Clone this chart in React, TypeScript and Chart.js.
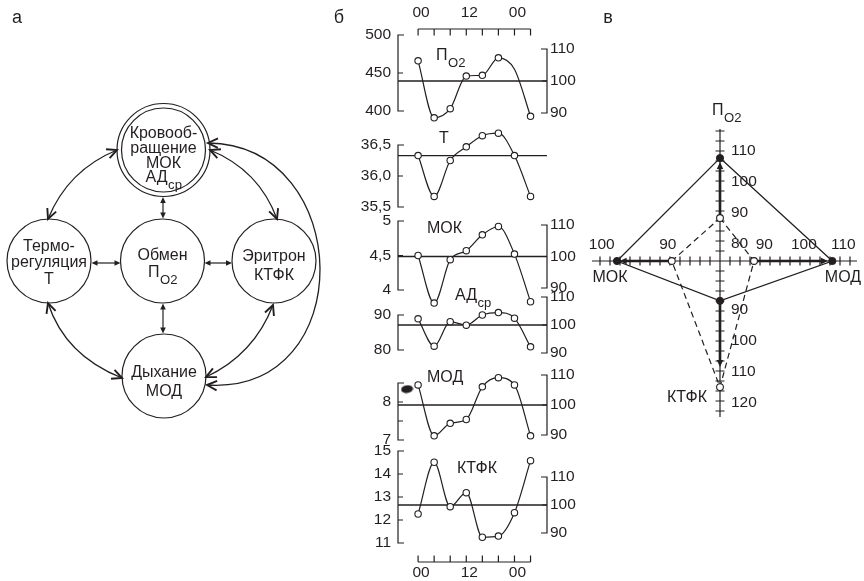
import React, { useEffect, useRef } from 'react';
import { Chart, registerables } from 'chart.js';

Chart.register(...registerables);

const INK = '#231f20';
const FONT = '"Liberation Sans", Arial, Helvetica, sans-serif';

/* ================= DATA ================= */

/* panel б: 24-hour rhythms, points every 4 h */
const HOURS = [0, 4, 8, 12, 16, 20, 24, 28];
const PO2_VALUES = [466, 391, 403, 446, 447, 470, 455, 393];
const PO2_MARKED = [true, true, true, true, true, true, false, true];
const T_VALUES = [36.33, 35.67, 36.25, 36.47, 36.65, 36.69, 36.33, 35.67];
const MOK_VALUES = [4.5, 3.81, 4.44, 4.57, 4.8, 4.92, 4.52, 3.83];
const AD_VALUES = [88.9, 81.1, 88.1, 87.1, 90.0, 90.7, 89.1, 80.9];
const MOD_VALUES = [8.45, 7.11, 7.44, 7.54, 8.4, 8.64, 8.45, 7.11];
const KTFK_VALUES = [12.26, 14.51, 12.58, 13.19, 11.25, 11.3, 12.32, 14.58];
const ALL_MARKED = [true, true, true, true, true, true, true, true];
const MOD_BLOT_X = [-2.75];
const MOD_BLOT_Y = [8.34];

const TIME_TICKS = [0, 4, 8, 12, 16, 20, 24, 28];
const TIME_LABELS = ['00', '', '', '12', '', '', '00', ''];
const PCT_TICKS = [90, 100, 110];
const PCT_LABELS = ['90', '100', '110'];
const PO2_TICKS = [400, 450, 500];
const PO2_TICK_LABELS = ['400', '450', '500'];
const T_TICKS = [35.5, 36.0, 36.5];
const T_TICK_LABELS = ['35,5', '36,0', '36,5'];
const MOK_TICKS = [4, 4.5, 5];
const MOK_TICK_LABELS = ['4', '4,5', '5'];
const AD_TICKS = [80, 90];
const AD_TICK_LABELS = ['80', '90'];
const MOD_TICKS = [7, 7.5, 8, 8.5];
const MOD_TICK_LABELS = ['7', '', '8', ''];
const KTFK_TICKS = [11, 12, 13, 14, 15];
const KTFK_TICK_LABELS = ['11', '12', '13', '14', '15'];

/* panel в: two states on four axes (top, right, bottom, left) */
const RADAR_AXES = ['ПO2', 'МОД', 'КТФК', 'МОК'];
const STATE_SOLID = [107.6, 107.2, 87.2, 97.7];
const STATE_DASHED = [88.2, 87.4, 115.1, 89.4];
const SHIFT_FROM = [88.2, 87.4, 87.2, 89.4];
const SHIFT_TO = [106.3, 106.1, 108.6, 97.3];
const PO2_AXIS_TICKS = [80, 90, 100, 110];
const MOD_AXIS_TICKS = [90, 100, 110];
const KTFK_AXIS_TICKS = [90, 100, 110, 120];
const MOK_AXIS_TICKS = [90, 100];

/* panel а: scheme */
const NODE_LINES: string[][] = [
  ['Кровооб-', 'ращение', 'МОК', 'АД_ср'],
  ['Термо-', 'регуляция', 'Т'],
  ['Обмен', 'П_O2'],
  ['Эритрон', 'КТФК'],
  ['Дыхание', 'МОД'],
];

/* ================= LAYOUT ================= */

const NODE_X = [163.5, 49, 162.5, 274, 164];
const NODE_Y = [150, 261, 261, 261, 376];
const NODE_R = 42;
const OUTER_R = 46.5;
const NODE_GAP = [14.7, 16.7, 17.5, 19, 19];
const NODE_TEXT_DY = [6, 2, 3, 5, 6];
const STRAIGHT_LINKS = [
  [163, 197, 163, 218.5],
  [91.5, 263, 120.5, 263],
  [204.5, 263, 232, 263],
  [163, 303.5, 163, 333.5],
];
const QUAD_LINKS = [
  [117, 150, 68, 170, 48, 219],
  [210, 150, 259, 170, 277, 219],
  [48, 303, 65, 355.5, 122, 378],
  [273, 305, 254, 354.5, 206, 377],
];
const BIG_ARC = [208, 143, 355, 145, 360, 395, 207, 385];

const SUB_LEFT = 330;
const SUB_WIDTH = 270;
const SUB_PAD_L = 68;
const SUB_PAD_R = 53;
const X_MIN = -5;
const X_MAX = 32.1;

const AXIS_MIN = [74.3, 78.8, 74.3, 82.1];
const AXIS_MAX = [119.6, 114.2, 119.6, 103.3];
const R_MAX = 14;
const AXIS_EXT = [13.2, 13.7, 15.6, 12.8];
const AXIS_TICK_N = [13, 13, 15, 12];

/* ================= HELPERS ================= */

function drawRich(ctx: CanvasRenderingContext2D, x: number, y: number, text: string, size: number, align: 'center' | 'left') {
  const [main, sub] = text.split('_');
  ctx.font = `${size}px ${FONT}`;
  const w1 = ctx.measureText(main).width;
  const subSize = size * 0.82;
  ctx.font = `${subSize}px ${FONT}`;
  const w2 = sub ? ctx.measureText(sub).width : 0;
  const x0 = align === 'center' ? x - (w1 + w2) / 2 : x;
  ctx.textAlign = 'left';
  ctx.textBaseline = 'middle';
  ctx.font = `${size}px ${FONT}`;
  ctx.fillText(main, x0, y);
  if (sub) {
    ctx.font = `${subSize}px ${FONT}`;
    ctx.fillText(sub, x0 + w1 + 0.5, y + size * 0.45);
  }
}

function filledHead(ctx: CanvasRenderingContext2D, tx: number, ty: number, dx: number, dy: number, len: number, hw: number) {
  const l = Math.hypot(dx, dy) || 1;
  const ux = dx / l, uy = dy / l;
  const bx = tx - ux * len, by = ty - uy * len;
  ctx.beginPath();
  ctx.moveTo(tx, ty);
  ctx.lineTo(bx - uy * hw, by + ux * hw);
  ctx.lineTo(bx + uy * hw, by - ux * hw);
  ctx.closePath();
  ctx.fill();
}

function vHead(ctx: CanvasRenderingContext2D, tx: number, ty: number, dx: number, dy: number, len = 11, spread = 0.45) {
  const a = Math.atan2(dy, dx);
  ctx.beginPath();
  ctx.moveTo(tx - len * Math.cos(a - spread), ty - len * Math.sin(a - spread));
  ctx.lineTo(tx, ty);
  ctx.lineTo(tx - len * Math.cos(a + spread), ty - len * Math.sin(a + spread));
  ctx.stroke();
}

function calRange(cal: number[], top: number, bottom: number) {
  const [v1, p1, v2, p2] = cal;
  const upp = (v1 - v2) / (p2 - p1);
  return { min: v1 - (bottom - p1) * upp, max: v1 + (p1 - top) * upp };
}

/* ================= PANEL б ================= */

type SubCfg = {
  key: string;
  values: number[];
  marked: boolean[];
  top: number;
  height: number;
  leftCal: number[];
  pctCal: number[];
  leftTicks: number[];
  leftLabels: string[];
  rightTicks: number[];
  rightLabels: string[];
  title: string;
  titleX: number;
  titleY: number;
  timeAxis?: { y: number; dir: number; labelY: number };
  letter?: boolean;
  blot?: boolean;
};

const SUBPLOTS: SubCfg[] = [
  {
    key: 'po2', values: PO2_VALUES, marked: PO2_MARKED, top: 0, height: 130,
    leftCal: [500, 35, 400, 111], pctCal: [110, 49, 90, 113],
    leftTicks: PO2_TICKS, leftLabels: PO2_TICK_LABELS, rightTicks: PCT_TICKS, rightLabels: PCT_LABELS,
    title: 'П_O2', titleX: 436, titleY: 56, timeAxis: { y: 29, dir: 1, labelY: 13 }, letter: true,
  },
  {
    key: 't', values: T_VALUES, marked: ALL_MARKED, top: 125, height: 90,
    leftCal: [36.5, 145, 35.5, 207], pctCal: [110, 124.2, 90, 187.2],
    leftTicks: T_TICKS, leftLabels: T_TICK_LABELS, rightTicks: [], rightLabels: [],
    title: 'Т', titleX: 439, titleY: 139,
  },
  {
    key: 'mok', values: MOK_VALUES, marked: ALL_MARKED, top: 210, height: 105,
    leftCal: [5, 221, 4, 290], pctCal: [110, 225, 90, 288],
    leftTicks: MOK_TICKS, leftLabels: MOK_TICK_LABELS, rightTicks: PCT_TICKS, rightLabels: PCT_LABELS,
    title: 'МОК', titleX: 427, titleY: 229,
  },
  {
    key: 'ad', values: AD_VALUES, marked: ALL_MARKED, top: 285, height: 77,
    leftCal: [90, 315, 80, 350], pctCal: [110, 297, 90, 353],
    leftTicks: AD_TICKS, leftLabels: AD_TICK_LABELS, rightTicks: PCT_TICKS, rightLabels: PCT_LABELS,
    title: 'АД_ср', titleX: 455, titleY: 296,
  },
  {
    key: 'mod', values: MOD_VALUES, marked: ALL_MARKED, top: 362, height: 86,
    leftCal: [8.5, 383, 7, 440], pctCal: [110, 375, 90, 435],
    leftTicks: MOD_TICKS, leftLabels: MOD_TICK_LABELS, rightTicks: PCT_TICKS, rightLabels: PCT_LABELS,
    title: 'МОД', titleX: 427, titleY: 378, blot: true,
  },
  {
    key: 'ktfk', values: KTFK_VALUES, marked: ALL_MARKED, top: 440, height: 141,
    leftCal: [15, 451, 11, 543], pctCal: [110, 477, 90, 533],
    leftTicks: KTFK_TICKS, leftLabels: KTFK_TICK_LABELS, rightTicks: PCT_TICKS, rightLabels: PCT_LABELS,
    title: 'КТФК', titleX: 457, titleY: 469, timeAxis: { y: 562, dir: -1, labelY: 573 },
  },
];

function makeBlotStyle() {
  const c = document.createElement('canvas');
  c.width = 13;
  c.height = 9;
  const g = c.getContext('2d')!;
  g.fillStyle = INK;
  g.beginPath();
  g.ellipse(6.5, 4.5, 6, 3.9, -0.12, 0, Math.PI * 2);
  g.fill();
  return c;
}

function bracket(ctx: CanvasRenderingContext2D, x: number, ys: number[], dir: number) {
  if (!ys.length) return;
  const top = Math.min(...ys), bot = Math.max(...ys);
  ctx.beginPath();
  ctx.moveTo(x + dir * 6, top);
  ctx.lineTo(x, top);
  ctx.lineTo(x, bot);
  ctx.lineTo(x + dir * 6, bot);
  ys.forEach((py) => {
    if (py !== top && py !== bot) {
      ctx.moveTo(x, py);
      ctx.lineTo(x + dir * 5, py);
    }
  });
  ctx.stroke();
}

function buildSub(cfg: SubCfg) {
  return (canvas: HTMLCanvasElement) => {
    const bottom = cfg.top + cfg.height;
    const yr = calRange(cfg.leftCal, cfg.top, bottom);
    const pr = calRange(cfg.pctCal, cfg.top, bottom);
    const datasets: any[] = [
      {
        data: HOURS.map((h, i) => ({ x: h, y: cfg.values[i] })),
        yAxisID: 'y',
        borderColor: INK,
        borderWidth: 1.2,
        cubicInterpolationMode: 'monotone',
        pointRadius: cfg.marked.map((m) => (m ? 3.2 : 0)),
        pointBackgroundColor: '#fff',
        pointBorderColor: INK,
        pointBorderWidth: 1.1,
      },
      {
        data: [{ x: X_MIN, y: 100 }, { x: X_MAX, y: 100 }],
        yAxisID: 'yp',
        borderColor: INK,
        borderWidth: 1.3,
        pointRadius: 0,
        tension: 0,
      },
    ];
    if (cfg.blot) {
      datasets.unshift({
        data: MOD_BLOT_X.map((x, i) => ({ x, y: MOD_BLOT_Y[i] })),
        yAxisID: 'y',
        showLine: false,
        pointStyle: makeBlotStyle(),
        pointRadius: 6,
      });
    }
    const decor = {
      id: 'subDecor' + cfg.key,
      afterDraw(chart: any) {
        const ctx: CanvasRenderingContext2D = chart.ctx;
        const { left: L, right: R } = chart.chartArea;
        const sy = chart.scales.y, sp = chart.scales.yp, sx = chart.scales.x;
        ctx.save();
        ctx.strokeStyle = INK;
        ctx.fillStyle = INK;
        ctx.lineWidth = 1.2;
        const ly = cfg.leftTicks.map((v) => sy.getPixelForValue(v));
        bracket(ctx, L, ly, 1);
        ctx.font = `15.5px ${FONT}`;
        ctx.textBaseline = 'middle';
        ctx.textAlign = 'right';
        cfg.leftLabels.forEach((t, i) => ctx.fillText(t, L - 7, ly[i]));
        const ry = cfg.rightTicks.map((v) => sp.getPixelForValue(v));
        bracket(ctx, R, ry, -1);
        ctx.textAlign = 'left';
        cfg.rightLabels.forEach((t, i) => ctx.fillText(t, R + 3, ry[i]));
        drawRich(ctx, cfg.titleX - SUB_LEFT, cfg.titleY - cfg.top, cfg.title, 16, 'left');
        if (cfg.timeAxis) {
          const ta = cfg.timeAxis;
          const xs = TIME_TICKS.map((h) => sx.getPixelForValue(h));
          const y0 = ta.y - cfg.top;
          ctx.beginPath();
          ctx.moveTo(xs[0], y0);
          ctx.lineTo(xs[xs.length - 1], y0);
          xs.forEach((x) => {
            ctx.moveTo(x, y0);
            ctx.lineTo(x, y0 + ta.dir * 6.5);
          });
          ctx.stroke();
          ctx.font = `15.5px ${FONT}`;
          ctx.textAlign = 'center';
          TIME_LABELS.forEach((t, i) => {
            if (t) ctx.fillText(t, xs[i] + 3, ta.labelY - cfg.top);
          });
        }
        if (cfg.letter) {
          ctx.font = `18px ${FONT}`;
          ctx.textAlign = 'center';
          ctx.fillText('б', 339 - SUB_LEFT, 18);
        }
        ctx.restore();
      },
    };
    return new Chart(canvas, {
      type: 'line',
      data: { datasets },
      options: {
        responsive: false,
        animation: false,
        devicePixelRatio: 1,
        events: [],
        layout: { autoPadding: false, padding: { left: SUB_PAD_L, right: SUB_PAD_R, top: 0, bottom: 0 } },
        scales: {
          x: { type: 'linear', min: X_MIN, max: X_MAX, display: false },
          y: { type: 'linear', min: yr.min, max: yr.max, display: false },
          yp: { type: 'linear', min: pr.min, max: pr.max, display: false },
        },
        plugins: { legend: { display: false }, tooltip: { enabled: false } },
      } as any,
      plugins: [decor],
    });
  };
}

/* ================= PANEL в ================= */

function buildRadar(canvas: HTMLCanvasElement) {
  const norm = (i: number, v: number) => ((v - AXIS_MIN[i]) / (AXIS_MAX[i] - AXIS_MIN[i])) * R_MAX;
  const axisTicks = [PO2_AXIS_TICKS, MOD_AXIS_TICKS, KTFK_AXIS_TICKS, MOK_AXIS_TICKS];
  const decor = {
    id: 'radarDecor',
    beforeDatasetsDraw(chart: any) {
      const s = chart.scales.r;
      const ctx: CanvasRenderingContext2D = chart.ctx;
      const at = (i: number, r: number) => s.getPointPositionForValue(i, r);
      ctx.save();
      ctx.strokeStyle = INK;
      ctx.fillStyle = INK;
      ctx.lineWidth = 1.2;
      ctx.beginPath();
      let a = at(0, AXIS_EXT[0]);
      let b = at(2, AXIS_EXT[2]);
      ctx.moveTo(a.x, a.y);
      ctx.lineTo(b.x, b.y);
      a = at(3, AXIS_EXT[3]);
      b = at(1, AXIS_EXT[1]);
      ctx.moveTo(a.x, a.y);
      ctx.lineTo(b.x, b.y);
      ctx.stroke();
      ctx.beginPath();
      for (let i = 0; i < 4; i++) {
        const vertical = i % 2 === 0;
        for (let t = 1; t <= AXIS_TICK_N[i]; t++) {
          const p = at(i, t);
          if (vertical) {
            ctx.moveTo(p.x - 4.5, p.y);
            ctx.lineTo(p.x + 4.5, p.y);
          } else {
            ctx.moveTo(p.x, p.y - 4.5);
            ctx.lineTo(p.x, p.y + 4.5);
          }
        }
      }
      ctx.stroke();
      ctx.lineWidth = 2.6;
      for (let i = 0; i < 4; i++) {
        const p0 = at(i, norm(i, SHIFT_FROM[i]));
        const p1 = at(i, norm(i, SHIFT_TO[i]));
        const dx = p1.x - p0.x, dy = p1.y - p0.y;
        const l = Math.hypot(dx, dy) || 1;
        ctx.beginPath();
        ctx.moveTo(p0.x, p0.y);
        ctx.lineTo(p1.x - (dx / l) * 5, p1.y - (dy / l) * 5);
        ctx.stroke();
        filledHead(ctx, p1.x, p1.y, dx, dy, 7, 3.2);
      }
      ctx.restore();
    },
    afterDraw(chart: any) {
      const s = chart.scales.r;
      const ctx: CanvasRenderingContext2D = chart.ctx;
      const at = (i: number, r: number) => s.getPointPositionForValue(i, r);
      ctx.save();
      ctx.fillStyle = INK;
      ctx.font = `15.5px ${FONT}`;
      ctx.textBaseline = 'middle';
      axisTicks.forEach((ticks, i) => {
        ticks.forEach((v) => {
          const p = at(i, norm(i, v));
          if (i % 2 === 0) {
            ctx.textAlign = 'left';
            ctx.fillText(String(v), p.x + 11, p.y);
          } else {
            ctx.textAlign = 'center';
            ctx.fillText(String(v), p.x, p.y - 16);
          }
        });
      });
      const top = at(0, AXIS_EXT[0]);
      drawRich(ctx, top.x - 8, top.y - 18, 'П_O2', 16, 'left');
      const right = at(1, AXIS_EXT[1]);
      drawRich(ctx, right.x - 14, right.y + 17, RADAR_AXES[1], 16, 'center');
      const bottom = at(2, AXIS_EXT[2]);
      drawRich(ctx, bottom.x - 33, bottom.y - 19, RADAR_AXES[2], 16, 'center');
      const left = at(3, AXIS_EXT[3]);
      drawRich(ctx, left.x + 18, left.y + 17, RADAR_AXES[3], 16, 'center');
      ctx.font = `18px ${FONT}`;
      ctx.textAlign = 'center';
      ctx.fillText('в', 608 - 580, 18);
      ctx.restore();
    },
  };
  return new Chart(canvas, {
    type: 'radar',
    data: {
      labels: RADAR_AXES,
      datasets: [
        {
          data: STATE_SOLID.map((v, i) => norm(i, v)),
          borderColor: INK,
          borderWidth: 1.3,
          fill: false,
          pointRadius: 3.6,
          pointBackgroundColor: INK,
          pointBorderColor: INK,
          pointBorderWidth: 1,
        },
        {
          data: STATE_DASHED.map((v, i) => norm(i, v)),
          borderColor: INK,
          borderWidth: 1.2,
          borderDash: [6, 4],
          fill: false,
          pointRadius: 3.4,
          pointBackgroundColor: '#fff',
          pointBorderColor: INK,
          pointBorderWidth: 1.1,
        },
      ],
    },
    options: {
      responsive: false,
      animation: false,
      devicePixelRatio: 1,
      events: [],
      layout: { autoPadding: false, padding: { left: 0, right: 4, top: 121, bottom: 39 } },
      scales: {
        r: {
          min: 0,
          max: R_MAX,
          grid: { display: false },
          angleLines: { display: false },
          pointLabels: { display: false },
          ticks: { display: false },
        },
      },
      plugins: { legend: { display: false }, tooltip: { enabled: false } },
    } as any,
    plugins: [decor],
  });
}

/* ================= PANEL а ================= */

function buildDiagram(canvas: HTMLCanvasElement) {
  const decor = {
    id: 'diagramDecor',
    afterDatasetsDraw(chart: any) {
      const sx = chart.scales.x, sy = chart.scales.y;
      const X = (v: number) => sx.getPixelForValue(v);
      const Y = (v: number) => sy.getPixelForValue(v);
      const ctx: CanvasRenderingContext2D = chart.ctx;
      ctx.save();
      ctx.fillStyle = INK;
      ctx.strokeStyle = INK;
      NODE_LINES.forEach((lines, n) => {
        lines.forEach((ln, i) => {
          const yy = NODE_Y[n] + NODE_TEXT_DY[n] + (i - (lines.length - 1) / 2) * NODE_GAP[n];
          drawRich(ctx, X(NODE_X[n]), Y(yy), ln, 16, 'center');
        });
      });
      ctx.lineWidth = 1.2;
      STRAIGHT_LINKS.forEach(([x1, y1, x2, y2]) => {
        const ax = X(x1), ay = Y(y1), bx = X(x2), by = Y(y2);
        const dx = bx - ax, dy = by - ay;
        const l = Math.hypot(dx, dy);
        const ux = dx / l, uy = dy / l;
        ctx.beginPath();
        ctx.moveTo(ax + ux * 5, ay + uy * 5);
        ctx.lineTo(bx - ux * 5, by - uy * 5);
        ctx.stroke();
        filledHead(ctx, ax, ay, -dx, -dy, 6, 2.8);
        filledHead(ctx, bx, by, dx, dy, 6, 2.8);
      });
      ctx.lineWidth = 1.3;
      QUAD_LINKS.forEach(([x0, y0, cx, cy, x2, y2]) => {
        ctx.beginPath();
        ctx.moveTo(X(x0), Y(y0));
        ctx.quadraticCurveTo(X(cx), Y(cy), X(x2), Y(y2));
        ctx.stroke();
      });
      const [p0x, p0y, c1x, c1y, c2x, c2y, p3x, p3y] = BIG_ARC;
      ctx.beginPath();
      ctx.moveTo(X(p0x), Y(p0y));
      ctx.bezierCurveTo(X(c1x), Y(c1y), X(c2x), Y(c2y), X(p3x), Y(p3y));
      ctx.stroke();
      ctx.lineWidth = 1.9;
      QUAD_LINKS.forEach(([x0, y0, cx, cy, x2, y2]) => {
        vHead(ctx, X(x0), Y(y0), X(x0) - X(cx), Y(y0) - Y(cy));
        vHead(ctx, X(x2), Y(y2), X(x2) - X(cx), Y(y2) - Y(cy));
      });
      vHead(ctx, X(p0x), Y(p0y), X(p0x) - X(c1x), Y(p0y) - Y(c1y));
      vHead(ctx, X(p3x), Y(p3y), X(p3x) - X(c2x), Y(p3y) - Y(c2y));
      ctx.font = `18px ${FONT}`;
      ctx.textAlign = 'center';
      ctx.textBaseline = 'middle';
      ctx.fillText('а', 17, 18);
      ctx.restore();
    },
  };
  return new Chart(canvas, {
    type: 'scatter',
    data: {
      datasets: [
        {
          data: NODE_X.map((x, i) => ({ x, y: NODE_Y[i] })),
          pointRadius: NODE_R,
          pointBorderWidth: 1.2,
          pointBorderColor: INK,
          pointBackgroundColor: 'rgba(0,0,0,0)',
          showLine: false,
          clip: false,
        },
        {
          data: [{ x: NODE_X[0], y: NODE_Y[0] }],
          pointRadius: OUTER_R,
          pointBorderWidth: 1.2,
          pointBorderColor: INK,
          pointBackgroundColor: 'rgba(0,0,0,0)',
          showLine: false,
          clip: false,
        },
      ],
    },
    options: {
      responsive: false,
      animation: false,
      devicePixelRatio: 1,
      events: [],
      layout: { autoPadding: false, padding: 0 },
      scales: {
        x: { type: 'linear', min: 0, max: 330, display: false },
        y: { type: 'linear', min: 0, max: 440, reverse: true, display: false },
      },
      plugins: { legend: { display: false }, tooltip: { enabled: false } },
    } as any,
    plugins: [decor],
  });
}

/* ================= COMPONENTS ================= */

function ChartCanvas(props: { left: number; top: number; width: number; height: number; build: (c: HTMLCanvasElement) => Chart }) {
  const ref = useRef<HTMLCanvasElement>(null);
  useEffect(() => {
    const chart = props.build(ref.current!);
    return () => chart.destroy();
  }, []);
  return (
    <canvas
      ref={ref}
      width={props.width}
      height={props.height}
      style={{ position: 'absolute', left: props.left, top: props.top, width: props.width, height: props.height }}
    />
  );
}

export default function App() {
  return (
    <div style={{ position: 'absolute', left: 0, top: 0, width: 864, height: 581, background: '#fff', overflow: 'hidden' }}>
      <ChartCanvas left={0} top={0} width={330} height={440} build={buildDiagram} />
      {SUBPLOTS.map((cfg) => (
        <ChartCanvas key={cfg.key} left={SUB_LEFT} top={cfg.top} width={SUB_WIDTH} height={cfg.height} build={buildSub(cfg)} />
      ))}
      <ChartCanvas left={580} top={0} width={284} height={440} build={buildRadar} />
    </div>
  );
}
